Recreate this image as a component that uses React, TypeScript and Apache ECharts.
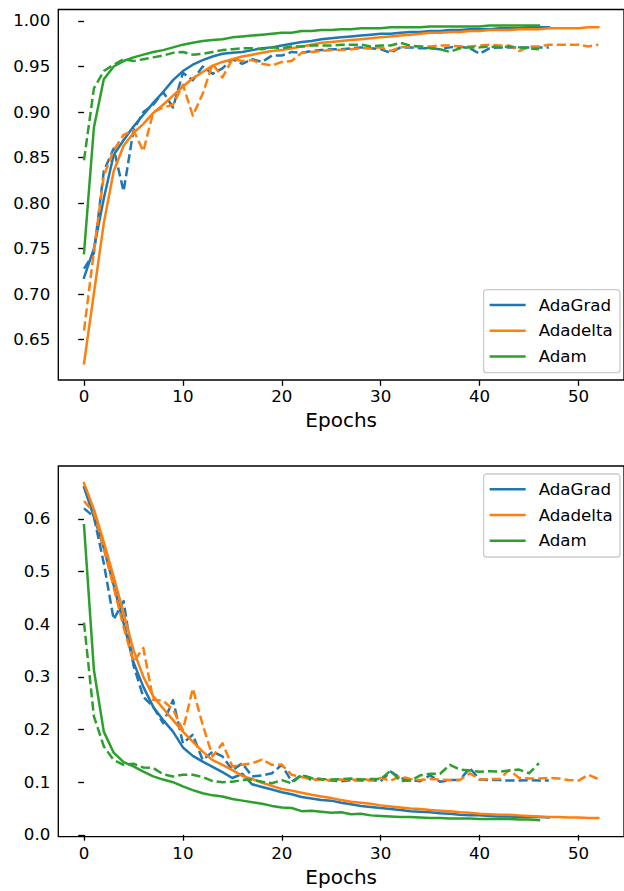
import React, { useEffect, useRef } from "react";
import * as echarts from "echarts";

const FONT = "DejaVu Sans";

const epochTicks = [0, 10, 20, 30, 40, 50];
const accTicks = [0.65, 0.7, 0.75, 0.8, 0.85, 0.9, 0.95, 1.0];
const lossTicks = [0.0, 0.1, 0.2, 0.3, 0.4, 0.5, 0.6];

const optimizers = ["AdaGrad", "Adadelta", "Adam"];
const colors = ["#1f77b4", "#ff7f0e", "#2ca02c"];

// Accuracy (top panel)
const accAdaGradTrain = [0.718, 0.750, 0.805, 0.853, 0.869, 0.884, 0.897, 0.910, 0.922, 0.935,
  0.945, 0.952, 0.957, 0.961, 0.964, 0.965, 0.966, 0.968, 0.970, 0.971,
  0.973, 0.975, 0.977, 0.978, 0.980, 0.981, 0.982, 0.983, 0.984, 0.985,
  0.986, 0.986, 0.987, 0.988, 0.988, 0.989, 0.989, 0.990, 0.990, 0.991,
  0.991, 0.991, 0.992, 0.992, 0.992, 0.993, 0.993, 0.993];
const accAdaGradVal = [0.728, 0.745, 0.835, 0.860, 0.813, 0.880, 0.900, 0.908, 0.922, 0.905,
  0.943, 0.935, 0.950, 0.942, 0.948, 0.958, 0.953, 0.958, 0.955, 0.962,
  0.962, 0.966, 0.965, 0.967, 0.968, 0.969, 0.969, 0.970, 0.971, 0.970,
  0.969, 0.965, 0.971, 0.971, 0.970, 0.970, 0.969, 0.971, 0.972, 0.970,
  0.964, 0.970, 0.971, 0.971, 0.971, 0.971, 0.971, 0.971];
const accAdadeltaTrain = [0.624, 0.701, 0.778, 0.835, 0.863, 0.877, 0.887, 0.899, 0.908, 0.918,
  0.928, 0.937, 0.944, 0.951, 0.955, 0.958, 0.961, 0.963, 0.965, 0.967,
  0.968, 0.970, 0.972, 0.974, 0.976, 0.977, 0.978, 0.979, 0.980, 0.981,
  0.982, 0.983, 0.984, 0.985, 0.986, 0.987, 0.987, 0.988, 0.988, 0.989,
  0.989, 0.990, 0.990, 0.990, 0.991, 0.991, 0.991, 0.992, 0.992, 0.992,
  0.992, 0.993, 0.993];
const accAdadeltaVal = [0.660, 0.747, 0.830, 0.858, 0.875, 0.880, 0.857, 0.900, 0.905, 0.908,
  0.930, 0.896, 0.920, 0.953, 0.938, 0.958, 0.956, 0.957, 0.953, 0.951,
  0.955, 0.956, 0.965, 0.966, 0.967, 0.968, 0.968, 0.969, 0.970, 0.970,
  0.971, 0.967, 0.971, 0.972, 0.972, 0.972, 0.973, 0.973, 0.972, 0.972,
  0.973, 0.974, 0.973, 0.973, 0.967, 0.972, 0.972, 0.974, 0.974, 0.974,
  0.974, 0.972, 0.974];
const accAdamTrain = [0.745, 0.883, 0.936, 0.950, 0.956, 0.960, 0.963, 0.966, 0.968, 0.971,
  0.974, 0.976, 0.978, 0.979, 0.980, 0.982, 0.983, 0.984, 0.985, 0.986,
  0.987, 0.987, 0.989, 0.989, 0.990, 0.990, 0.991, 0.991, 0.992, 0.992,
  0.992, 0.993, 0.993, 0.993, 0.993, 0.994, 0.994, 0.994, 0.994, 0.994,
  0.994, 0.995, 0.995, 0.995, 0.995, 0.995, 0.995];
const accAdamVal = [0.847, 0.926, 0.945, 0.952, 0.958, 0.956, 0.958, 0.960, 0.962, 0.965,
  0.966, 0.963, 0.964, 0.966, 0.968, 0.969, 0.970, 0.970, 0.969, 0.971,
  0.970, 0.972, 0.972, 0.973, 0.973, 0.973, 0.974, 0.974, 0.974, 0.972,
  0.973, 0.973, 0.976, 0.973, 0.972, 0.970, 0.969, 0.966, 0.970, 0.971,
  0.971, 0.972, 0.971, 0.972, 0.971, 0.970, 0.969];

// Loss (bottom panel)
const lossAdaGradTrain = [0.660, 0.604, 0.545, 0.474, 0.402, 0.328, 0.281, 0.243, 0.218, 0.196,
  0.166, 0.150, 0.139, 0.129, 0.119, 0.108, 0.116, 0.096, 0.091, 0.086,
  0.081, 0.077, 0.072, 0.069, 0.066, 0.065, 0.061, 0.058, 0.055, 0.053,
  0.051, 0.049, 0.047, 0.045, 0.044, 0.043, 0.041, 0.040, 0.038, 0.037,
  0.037, 0.036, 0.035, 0.035, 0.034, 0.034, 0.034, 0.033];
const lossAdaGradVal = [0.620, 0.604, 0.516, 0.409, 0.444, 0.322, 0.262, 0.243, 0.212, 0.256,
  0.174, 0.190, 0.142, 0.158, 0.149, 0.123, 0.136, 0.111, 0.113, 0.117,
  0.133, 0.101, 0.114, 0.104, 0.105, 0.103, 0.102, 0.104, 0.103, 0.104,
  0.102, 0.120, 0.108, 0.104, 0.102, 0.113, 0.101, 0.104, 0.104, 0.127,
  0.105, 0.104, 0.104, 0.103, 0.103, 0.104, 0.103, 0.103];
const lossAdadeltaTrain = [0.668, 0.618, 0.556, 0.490, 0.421, 0.351, 0.300, 0.263, 0.240, 0.218,
  0.196, 0.177, 0.158, 0.142, 0.133, 0.123, 0.112, 0.106, 0.099, 0.093,
  0.087, 0.084, 0.080, 0.076, 0.073, 0.070, 0.066, 0.063, 0.061, 0.059,
  0.056, 0.054, 0.052, 0.050, 0.049, 0.047, 0.046, 0.045, 0.043, 0.042,
  0.040, 0.039, 0.038, 0.038, 0.037, 0.036, 0.035, 0.034, 0.034, 0.033,
  0.033, 0.032, 0.032];
const lossAdadeltaVal = [0.634, 0.612, 0.545, 0.470, 0.395, 0.329, 0.355, 0.256, 0.255, 0.238,
  0.199, 0.278, 0.209, 0.149, 0.174, 0.130, 0.133, 0.136, 0.143, 0.133,
  0.133, 0.114, 0.110, 0.106, 0.104, 0.104, 0.105, 0.104, 0.106, 0.104,
  0.108, 0.103, 0.111, 0.106, 0.104, 0.106, 0.105, 0.104, 0.104, 0.117,
  0.105, 0.106, 0.106, 0.123, 0.108, 0.107, 0.107, 0.108, 0.107, 0.104,
  0.103, 0.114, 0.106];
const lossAdamTrain = [0.588, 0.313, 0.196, 0.156, 0.138, 0.130, 0.120, 0.111, 0.105, 0.100,
  0.092, 0.085, 0.079, 0.075, 0.073, 0.068, 0.065, 0.062, 0.059, 0.055,
  0.052, 0.051, 0.045, 0.046, 0.044, 0.042, 0.043, 0.039, 0.040, 0.037,
  0.036, 0.035, 0.034, 0.034, 0.033, 0.032, 0.032, 0.031, 0.031, 0.031,
  0.030, 0.030, 0.030, 0.030, 0.029, 0.029, 0.028];
const lossAdamVal = [0.403, 0.225, 0.168, 0.142, 0.133, 0.135, 0.128, 0.127, 0.115, 0.111,
  0.114, 0.114, 0.110, 0.102, 0.100, 0.101, 0.104, 0.105, 0.101, 0.098,
  0.104, 0.098, 0.114, 0.108, 0.106, 0.105, 0.106, 0.107, 0.105, 0.106,
  0.106, 0.122, 0.102, 0.103, 0.113, 0.116, 0.116, 0.133, 0.124, 0.122,
  0.120, 0.121, 0.120, 0.122, 0.124, 0.117, 0.136];

const accTrain = [accAdaGradTrain, accAdadeltaTrain, accAdamTrain];
const accVal = [accAdaGradVal, accAdadeltaVal, accAdamVal];
const lossTrain = [lossAdaGradTrain, lossAdadeltaTrain, lossAdamTrain];
const lossVal = [lossAdaGradVal, lossAdadeltaVal, lossAdamVal];

const toPairs = (arr: number[]) => arr.map((v, i) => [i, v]);

export default function App() {
  const ref = useRef<HTMLDivElement>(null);
  useEffect(() => {
    if (!ref.current) return;
    const chart = echarts.init(ref.current, null, { renderer: "svg" });

    const xAxisCfg = (gridIndex: number) => ({
      type: "value",
      gridIndex,
      min: -2.6,
      max: 54.6,
      name: "Epochs",
      nameLocation: "middle",
      nameGap: 30,
      nameTextStyle: { fontSize: 20, color: "#000", fontFamily: FONT, lineHeight: 20 },
      axisLine: { show: false },
      splitLine: { show: false },
      axisTick: { show: true, customValues: epochTicks, length: 5.8, lineStyle: { color: "#000", width: 1.33 } },
      axisLabel: { customValues: epochTicks, fontSize: 16.67, color: "#000", fontFamily: FONT, margin: 8 },
    });

    const yAxisCfg = (gridIndex: number, min: number, max: number, ticks: number[], digits: number) => ({
      type: "value",
      gridIndex,
      min,
      max,
      axisLine: { show: false },
      splitLine: { show: false },
      axisTick: { show: true, customValues: ticks, length: 5.8, lineStyle: { color: "#000", width: 1.33 } },
      axisLabel: {
        customValues: ticks,
        fontSize: 16.67,
        color: "#000",
        fontFamily: FONT,
        margin: 8,
        formatter: (v: number) => v.toFixed(digits),
      },
    });

    const legendCfg = (top: number) => ({
      orient: "vertical",
      right: 4,
      top,
      data: optimizers,
      icon: "rect",
      itemWidth: 36,
      itemHeight: 2.5,
      itemGap: 8.7,
      padding: [6.8, 7.3, 7.8, 6],
      backgroundColor: "rgba(255,255,255,0.8)",
      borderColor: "#cccccc",
      borderWidth: 1.33,
      borderRadius: 3,
      textStyle: { fontSize: 16.67, color: "#000", fontFamily: FONT, lineHeight: 17, padding: [0, 0, 0, 8] },
    });

    const series: any[] = [];
    for (let g = 0; g < 2; g++) {
      const train = g === 0 ? accTrain : lossTrain;
      const val = g === 0 ? accVal : lossVal;
      optimizers.forEach((name, k) => {
        series.push({
          type: "line",
          name,
          xAxisIndex: g,
          yAxisIndex: g,
          data: toPairs(train[k]),
          symbol: "none",
          showSymbol: false,
          color: colors[k],
          lineStyle: { width: 2.5, color: colors[k], cap: "square", join: "round" },
          z: 3,
        });
        series.push({
          type: "line",
          name: name + " (val)",
          xAxisIndex: g,
          yAxisIndex: g,
          data: toPairs(val[k]),
          symbol: "none",
          showSymbol: false,
          color: colors[k],
          lineStyle: { width: 2.5, color: colors[k], type: [9.2, 4], join: "round" },
          z: 3,
        });
      });
    }

    chart.setOption({
      animation: false,
      backgroundColor: "#fff",
      textStyle: { fontFamily: FONT },
      grid: [
        { left: 58.3, top: 9.5, width: 571.2, height: 370.5, show: true, borderColor: "#000", borderWidth: 1.33, backgroundColor: "transparent" },
        { left: 58.3, top: 466, width: 571.2, height: 370.7, show: true, borderColor: "#000", borderWidth: 1.33, backgroundColor: "transparent" },
      ],
      xAxis: [xAxisCfg(0), xAxisCfg(1)],
      yAxis: [
        yAxisCfg(0, 0.6057, 1.0126, accTicks, 2),
        yAxisCfg(1, -0.0035, 0.7005, lossTicks, 1),
      ],
      legend: [legendCfg(289.7), legendCfg(474)],
      series,
    });

    return () => chart.dispose();
  }, []);

  return (
    <div
      ref={ref}
      style={{ position: "fixed", left: 0, top: 0, width: 624, height: 891, background: "#fff" }}
    />
  );
}
